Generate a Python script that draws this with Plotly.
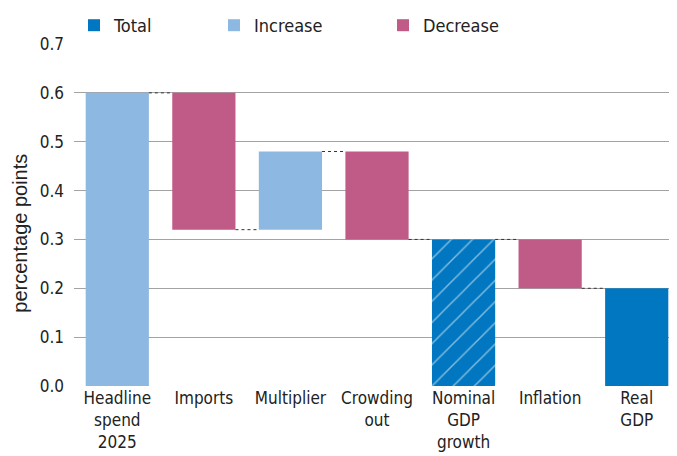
import plotly.graph_objects as go

categories = ["Headline<br>spend<br>2025", "Imports", "Multiplier", "Crowding<br>out",
              "Nominal<br>GDP<br>growth", "Inflation", "Real<br>GDP"]
kinds = ["increase", "decrease", "increase", "decrease", "subtotal", "decrease", "total"]
changes = [0.60, -0.28, 0.16, -0.18, None, -0.10, None]

# compute bar bases/tops from changes
bases, tops, levels = [], [], []
level = 0.0
for k, c in zip(kinds, changes):
    if k in ("subtotal", "total"):
        bases.append(0.0); tops.append(level)
    else:
        new = level + c
        bases.append(min(level, new)); tops.append(max(level, new))
        level = new
    levels.append(level)

C_TOTAL = "#0077c0"
C_INC = "#8db8e2"
C_DEC = "#c05a87"
W = 0.73
FONT = "DejaVu Sans Condensed, Roboto, sans-serif"

L, R, T, B = 66.25, 5.25, 36, 78
PW = 677 - L - R
PH = 456 - T - B

fig = go.Figure()

def add(idx, name, color, showlegend=True, pattern=None, lw=None):
    m = dict(color=color, line=dict(width=0))
    if pattern:
        m["pattern"] = pattern
    kw = {}
    if lw:
        kw["legendwidth"] = lw
    fig.add_trace(go.Bar(
        x=list(idx), y=[tops[i] - bases[i] for i in idx], base=[bases[i] for i in idx],
        width=W, name=name, showlegend=showlegend, marker=m, **kw))

add([6], "Total", C_TOTAL, lw=95)
add([i for i, k in enumerate(kinds) if k == "increase"], "Increase", C_INC, lw=124)
add([i for i, k in enumerate(kinds) if k == "decrease"], "Decrease", C_DEC, lw=120)
add([4], "Nominal", C_TOTAL, showlegend=False,
    pattern=dict(shape="/", fgcolor="white", bgcolor=C_TOTAL, size=15, solidity=0.1))

# connectors
for i in range(len(categories) - 1):
    fig.add_trace(go.Scatter(
        x=[i + W / 2, i + 1 - W / 2], y=[levels[i], levels[i]], mode="lines",
        line=dict(color="#333333", width=1, dash="dot"), showlegend=False, hoverinfo="skip"))

fig.update_layout(
    width=677, height=456,
    margin=dict(l=L, r=R, t=T, b=B, autoexpand=False),
    paper_bgcolor="white", plot_bgcolor="white",
    barmode="overlay",
    font=dict(family=FONT, size=17, color="#222222"),
    legend=dict(orientation="h", x=0, xanchor="left", y=1.0, yanchor="bottom",
                font=dict(size=18), traceorder="normal"),
    xaxis=dict(range=[-0.5, 6.5], tickmode="array", tickvals=list(range(len(categories))),
               ticktext=categories, showgrid=False, zeroline=False, showline=False,
               ticks="", tickfont=dict(size=17)),
    yaxis=dict(range=[0, 0.7], dtick=0.1, tickformat=".1f", showgrid=True,
               gridcolor="#a3a3a3", gridwidth=1.3, zeroline=False, showline=False,
               ticks="", ticklen=0, ticklabelstandoff=9,
               tickfont=dict(size=17)),
    annotations=[dict(text="percentage points", textangle=-90, xref="paper", yref="paper",
                      x=(12 - L) / PW, y=(378 - 225) / PH, xanchor="center", yanchor="middle",
                      showarrow=False,
                      font=dict(family="Liberation Sans, Arial, sans-serif", size=20, color="#222222"))],
)

fig.write_html("out.html")
